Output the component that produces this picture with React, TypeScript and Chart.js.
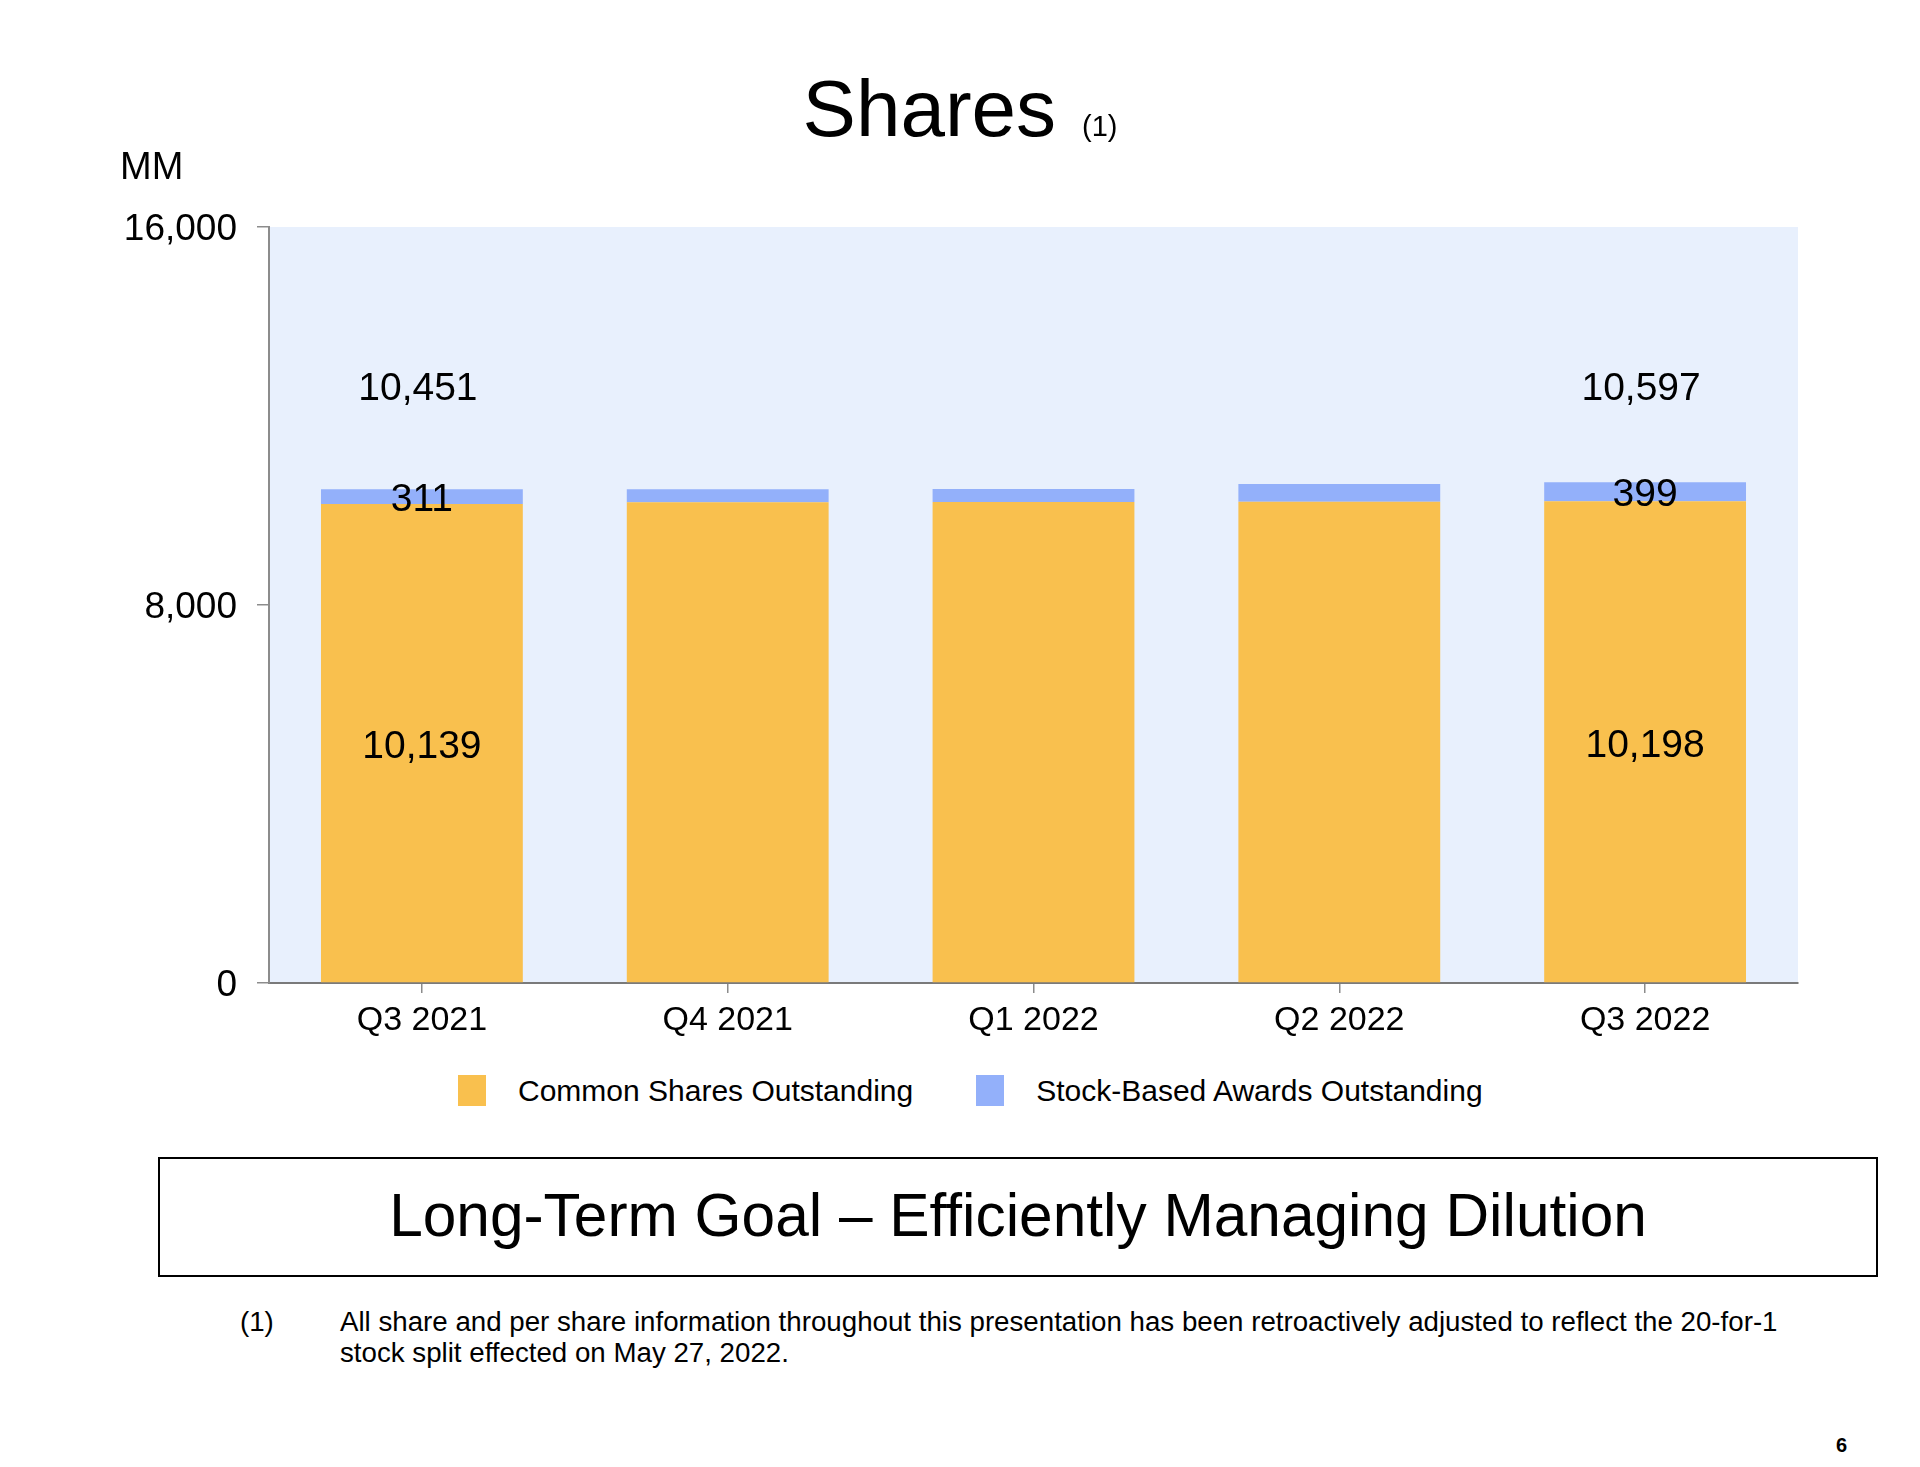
import React, { useEffect, useRef } from "react";
import { Chart, registerables } from "chart.js";

Chart.register(...registerables);

// ---- data ----
const categories = ["Q3 2021", "Q4 2021", "Q1 2022", "Q2 2022", "Q3 2022"];
const commonShares = [10139, 10175, 10180, 10187, 10198];
const stockAwards = [311, 275, 276, 372, 399];
// reported totals (only the labelled quarters are printed on the chart)
const reportedTotals: (number | null)[] = [10451, null, null, null, 10597];
const yTickValues = [0, 8000, 16000];
const totalLabelLevel = 12650; // value level at which the total labels sit
const seriesNames = ["Common Shares Outstanding", "Stock-Based Awards Outstanding"];

// ---- style ----
const FONT = '"Liberation Sans", Arial, Helvetica, sans-serif';
const YELLOW = "#F9C04E";
const BLUE = "#93B0FA";
const PLOT_BG = "#E8F0FD";
const AXIS = "#8C8C8C";
const LABEL_NUDGE = 4; // px, visual centring of text on its anchor

const fmt = (v: number) => v.toLocaleString("en-US");

const plotBgPlugin = {
  id: "plotBg",
  beforeDraw(chart: any) {
    const { ctx, chartArea } = chart;
    ctx.save();
    ctx.fillStyle = PLOT_BG;
    ctx.fillRect(chartArea.left, chartArea.top, chartArea.right - chartArea.left, chartArea.bottom - chartArea.top);
    ctx.restore();
  },
};

const valueLabelPlugin = {
  id: "valueLabels",
  afterDatasetsDraw(chart: any) {
    const { ctx } = chart;
    const xs = chart.scales.x;
    const ys = chart.scales.y;
    ctx.save();
    ctx.fillStyle = "#000";
    ctx.font = `39px ${FONT}`;
    ctx.textAlign = "center";
    ctx.textBaseline = "middle";
    reportedTotals.forEach((total, i) => {
      if (total == null) return;
      const x = xs.getPixelForValue(i);
      const c = commonShares[i];
      const a = stockAwards[i];
      ctx.fillText(fmt(c), x, ys.getPixelForValue(c / 2) + LABEL_NUDGE);
      ctx.fillText(fmt(a), x, ys.getPixelForValue(c + a / 2) + LABEL_NUDGE);
      ctx.fillText(fmt(total), x - 4, ys.getPixelForValue(totalLabelLevel) + LABEL_NUDGE);
    });
    ctx.restore();
  },
};

function SharesChart() {
  const ref = useRef<HTMLCanvasElement | null>(null);
  useEffect(() => {
    if (!ref.current) return;
    const chart = new Chart(ref.current, {
      type: "bar",
      data: {
        labels: categories,
        datasets: [
          { label: seriesNames[0], data: commonShares, backgroundColor: YELLOW, borderWidth: 0 },
          { label: seriesNames[1], data: stockAwards, backgroundColor: BLUE, borderWidth: 0 },
        ],
      },
      options: {
        responsive: false,
        animation: false,
        devicePixelRatio: 1,
        layout: { padding: { left: 60, right: 122, top: 227, bottom: 0 } },
        datasets: { bar: { categoryPercentage: 1, barPercentage: 0.66 } },
        scales: {
          x: {
            stacked: true,
            offset: true,
            afterFit: (s: any) => {
              s.height = 60;
            },
            grid: { display: true, drawOnChartArea: false, offset: false, tickLength: 10, color: AXIS, lineWidth: 1.5 },
            border: { display: true, color: "#7A7A7A", width: 2 },
            ticks: { color: "#000", font: { family: FONT, size: 34 }, padding: 7, maxRotation: 0 },
          },
          y: {
            stacked: true,
            min: 0,
            max: 16000,
            afterFit: (s: any) => {
              s.width = 209;
            },
            afterBuildTicks: (s: any) => {
              s.ticks = yTickValues.map((v) => ({ value: v }));
            },
            grid: { display: true, drawOnChartArea: false, tickLength: 12, color: AXIS, lineWidth: 1.5 },
            border: { display: true, color: AXIS, width: 2 },
            ticks: {
              color: "#000",
              font: { family: FONT, size: 37 },
              padding: 20,
              labelOffset: 3,
              callback: (v: any) => fmt(Number(v)),
            },
          },
        },
        plugins: {
          legend: { display: false },
          title: { display: false },
          tooltip: { enabled: false },
        },
      },
      plugins: [plotBgPlugin, valueLabelPlugin],
    } as any);
    return () => chart.destroy();
  }, []);
  return (
    <canvas
      ref={ref}
      width={1920}
      height={1043}
      style={{ position: "absolute", left: 0, top: 0, width: 1920, height: 1043 }}
    />
  );
}

function Legend() {
  const colors = [YELLOW, BLUE];
  return (
    <div
      style={{
        position: "absolute",
        left: 458,
        top: 1075,
        display: "flex",
        alignItems: "center",
        fontSize: 30,
        lineHeight: "31px",
        whiteSpace: "nowrap",
      }}
    >
      {seriesNames.map((name, i) => (
        <React.Fragment key={name}>
          <span
            style={{
              display: "inline-block",
              width: 28,
              height: 31,
              background: colors[i],
              marginLeft: i === 0 ? 0 : 63,
              marginRight: 32,
            }}
          />
          <span>{name}</span>
        </React.Fragment>
      ))}
    </div>
  );
}

export default function App() {
  return (
    <div
      style={{
        position: "absolute",
        left: 0,
        top: 0,
        width: 1920,
        height: 1467,
        background: "#fff",
        fontFamily: FONT,
        color: "#000",
        overflow: "hidden",
      }}
    >
      <SharesChart />
      <Legend />
      <div
        style={{
          position: "absolute",
          left: 0,
          top: 69,
          width: 1920,
          display: "flex",
          justifyContent: "center",
          alignItems: "baseline",
          lineHeight: 1,
        }}
      >
        <span style={{ fontSize: 80 }}>Shares</span>
        <span style={{ fontSize: 29, marginLeft: 26 }}>(1)</span>
      </div>
      <div style={{ position: "absolute", left: 120, top: 147, fontSize: 38, lineHeight: 1 }}>MM</div>
      <div
        style={{
          position: "absolute",
          left: 158,
          top: 1157,
          width: 1720,
          height: 120,
          boxSizing: "border-box",
          border: "2.5px solid #000",
          display: "flex",
          alignItems: "center",
          justifyContent: "center",
          fontSize: 60.4,
          lineHeight: 1,
          paddingBottom: 4,
        }}
      >
        Long-Term Goal – Efficiently Managing Dilution
      </div>
      <div style={{ position: "absolute", left: 240, top: 1306, fontSize: 27.7, lineHeight: "31px" }}>(1)</div>
      <div
        style={{
          position: "absolute",
          left: 340,
          top: 1306,
          fontSize: 27.7,
          lineHeight: "31px",
          whiteSpace: "nowrap",
        }}
      >
        All share and per share information throughout this presentation has been retroactively adjusted to reflect the 20-for-1
        <br />
        stock split effected on May 27, 2022.
      </div>
      <div
        style={{
          position: "absolute",
          left: 1836,
          top: 1433,
          fontSize: 20,
          fontWeight: "bold",
          lineHeight: "24px",
        }}
      >
        6
      </div>
    </div>
  );
}
